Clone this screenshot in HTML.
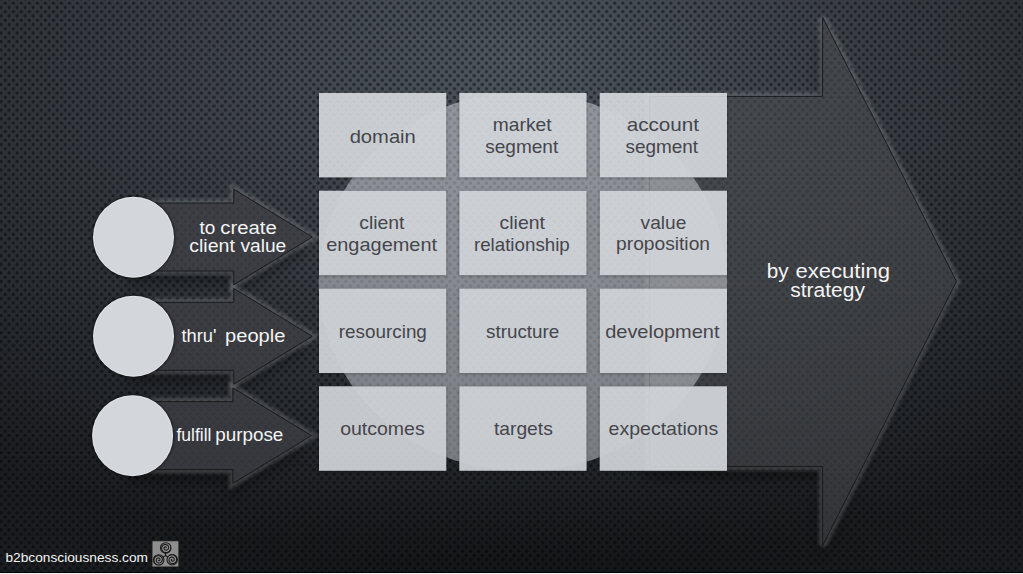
<!DOCTYPE html>
<html lang="en">
<head>
<meta charset="utf-8">
<title>Strategy diagram</title>
<style>
html,body{margin:0;padding:0;background:#191b1e;}
body{width:1023px;height:574px;overflow:hidden;font-family:"Liberation Sans",sans-serif;}
svg{display:block;position:absolute;left:0;top:0;}
text{font-family:"Liberation Sans",sans-serif;}
</style>
</head>
<body>
<svg width="1023" height="574" viewBox="0 0 1023 574">
<defs>
  <radialGradient id="bg" gradientUnits="userSpaceOnUse" cx="0" cy="0" r="1" gradientTransform="translate(512 60) scale(870 506)">
    <stop offset="0" stop-color="#4e555e"/>
    <stop offset="1" stop-color="#1a1c1f"/>
  </radialGradient>
  <filter id="dotblur" x="-50%" y="-50%" width="200%" height="200%"><feGaussianBlur stdDeviation="0.35"/></filter>
  <radialGradient id="dg">
    <stop offset="0" stop-color="#000" stop-opacity="0.47"/>
    <stop offset="0.55" stop-color="#000" stop-opacity="0.46"/>
    <stop offset="1" stop-color="#000" stop-opacity="0"/>
  </radialGradient>
  <pattern id="dots" x="0" y="0" width="8.02" height="8.565" patternUnits="userSpaceOnUse">
    <g fill="url(#dg)">
      <circle cx="5.3" cy="3.1" r="2.15"/>
      <circle cx="1.0" cy="7.38" r="2.15"/>
      <circle cx="9.02" cy="7.38" r="2.15"/>
      <circle cx="1.0" cy="-1.185" r="2.15"/>
      <circle cx="9.02" cy="-1.185" r="2.15"/>
    </g>
  </pattern>
  <filter id="sh8" x="-20%" y="-20%" width="140%" height="150%"><feGaussianBlur stdDeviation="5"/></filter>
  <filter id="sh3" x="-20%" y="-20%" width="140%" height="150%"><feGaussianBlur stdDeviation="1.6"/></filter>
  <filter id="glow" x="-10%" y="-10%" width="120%" height="120%"><feGaussianBlur stdDeviation="1.8"/></filter>
  <clipPath id="ell"><ellipse cx="522.9" cy="281.9" rx="204.2" ry="189.2"/></clipPath>
  <mask id="mBig" maskUnits="userSpaceOnUse" x="0" y="0" width="1023" height="574"><rect width="1023" height="574" fill="#fff"/><path d="M649.30,96.40 L822.60,96.40 L822.60,17.40 L956.50,281.45 L822.60,545.50 L822.60,466.50 L649.30,466.50 Z" fill="#000"/></mask>
  <mask id="mSmall" maskUnits="userSpaceOnUse" x="0" y="0" width="1023" height="574"><rect width="1023" height="574" fill="#fff"/><path d="M133.00,203.00 L233.80,203.00 L233.80,189.30 L312.30,237.00 L233.80,284.70 L233.80,271.00 L133.00,271.00 Z" fill="#000"/><path d="M133.00,302.30 L233.80,302.30 L233.80,288.60 L312.30,336.30 L233.80,384.00 L233.80,370.30 L133.00,370.30 Z" fill="#000"/><path d="M132.10,401.60 L232.90,401.60 L232.90,387.90 L311.40,435.60 L232.90,483.30 L232.90,469.60 L132.10,469.60 Z" fill="#000"/></mask>
  <mask id="mBox" maskUnits="userSpaceOnUse" x="0" y="0" width="1023" height="574"><rect width="1023" height="574" fill="#fff"/><g fill="#000"><rect x="319.0" y="92.9" width="127.3" height="84.5"/>
<rect x="459.3" y="92.9" width="127.3" height="84.5"/>
<rect x="599.7" y="92.9" width="127.3" height="84.5"/>
<rect x="319.0" y="190.7" width="127.3" height="84.5"/>
<rect x="459.3" y="190.7" width="127.3" height="84.5"/>
<rect x="599.7" y="190.7" width="127.3" height="84.5"/>
<rect x="319.0" y="288.5" width="127.3" height="84.5"/>
<rect x="459.3" y="288.5" width="127.3" height="84.5"/>
<rect x="599.7" y="288.5" width="127.3" height="84.5"/>
<rect x="319.0" y="386.3" width="127.3" height="84.5"/>
<rect x="459.3" y="386.3" width="127.3" height="84.5"/>
<rect x="599.7" y="386.3" width="127.3" height="84.5"/></g></mask>
  <radialGradient id="botdark" gradientUnits="userSpaceOnUse" cx="0" cy="0" r="1" gradientTransform="translate(512 575) scale(470 170)">
    <stop offset="0" stop-color="#000" stop-opacity="0.24"/>
    <stop offset="1" stop-color="#000" stop-opacity="0"/>
  </radialGradient>
</defs>

<!-- background -->
<rect width="1023" height="574" fill="url(#bg)"/>
<rect width="1023" height="574" fill="url(#botdark)"/>
<rect width="1023" height="574" fill="url(#dots)"/>

<!-- big arrow -->
<g>
  <g mask="url(#mBig)">
    <path d="M649.30,96.40 L822.60,96.40 L822.60,17.40 L956.50,281.45 L822.60,545.50 L822.60,466.50 L649.30,466.50 Z" fill="#000" fill-opacity="0.28" filter="url(#sh8)" transform="translate(-5 14)"/>
    <path d="M649.30,96.40 L822.60,96.40 L822.60,17.40 L956.50,281.45 L822.60,545.50 L822.60,466.50 L649.30,466.50 Z" fill="none" stroke="#aeb1b7" stroke-opacity="0.23" stroke-width="8" filter="url(#glow)"/>
  </g>
  <path d="M649.30,96.40 L822.60,96.40 L822.60,17.40 L956.50,281.45 L822.60,545.50 L822.60,466.50 L649.30,466.50 Z" fill="#4b4d51" fill-opacity="0.55"/>
  <path d="M649.30,96.40 L822.60,96.40 L822.60,17.40 L956.50,281.45 L822.60,545.50 L822.60,466.50 L649.30,466.50 Z" fill="none" stroke="#17181b" stroke-opacity="0.9" stroke-width="1"/>
</g>

<!-- big ellipse -->
<g mask="url(#mBox)"><ellipse cx="522.9" cy="281.9" rx="204.2" ry="189.2" fill="#f6f9ff" fill-opacity="0.42"/></g>
<g fill="#f6f9ff" fill-opacity="0.11" clip-path="url(#ell)">
<rect x="319.0" y="92.9" width="127.3" height="84.5"/>
<rect x="459.3" y="92.9" width="127.3" height="84.5"/>
<rect x="599.7" y="92.9" width="127.3" height="84.5"/>
<rect x="319.0" y="190.7" width="127.3" height="84.5"/>
<rect x="459.3" y="190.7" width="127.3" height="84.5"/>
<rect x="599.7" y="190.7" width="127.3" height="84.5"/>
<rect x="319.0" y="288.5" width="127.3" height="84.5"/>
<rect x="459.3" y="288.5" width="127.3" height="84.5"/>
<rect x="599.7" y="288.5" width="127.3" height="84.5"/>
<rect x="319.0" y="386.3" width="127.3" height="84.5"/>
<rect x="459.3" y="386.3" width="127.3" height="84.5"/>
<rect x="599.7" y="386.3" width="127.3" height="84.5"/>
</g>

<!-- small arrows -->
<g>
  <g mask="url(#mSmall)">
  <path d="M133.00,203.00 L233.80,203.00 L233.80,189.30 L312.30,237.00 L233.80,284.70 L233.80,271.00 L133.00,271.00 Z" fill="#000" fill-opacity="0.28" filter="url(#sh8)" transform="translate(-5 14)"/><path d="M133.00,302.30 L233.80,302.30 L233.80,288.60 L312.30,336.30 L233.80,384.00 L233.80,370.30 L133.00,370.30 Z" fill="#000" fill-opacity="0.28" filter="url(#sh8)" transform="translate(-5 14)"/><path d="M132.10,401.60 L232.90,401.60 L232.90,387.90 L311.40,435.60 L232.90,483.30 L232.90,469.60 L132.10,469.60 Z" fill="#000" fill-opacity="0.28" filter="url(#sh8)" transform="translate(-5 14)"/>
  <path d="M133.00,203.00 L233.80,203.00 L233.80,189.30 L312.30,237.00 L233.80,284.70 L233.80,271.00 L133.00,271.00 Z" fill="none" stroke="#aeb1b7" stroke-opacity="0.23" stroke-width="8" filter="url(#glow)"/><path d="M133.00,302.30 L233.80,302.30 L233.80,288.60 L312.30,336.30 L233.80,384.00 L233.80,370.30 L133.00,370.30 Z" fill="none" stroke="#aeb1b7" stroke-opacity="0.23" stroke-width="8" filter="url(#glow)"/><path d="M132.10,401.60 L232.90,401.60 L232.90,387.90 L311.40,435.60 L232.90,483.30 L232.90,469.60 L132.10,469.60 Z" fill="none" stroke="#aeb1b7" stroke-opacity="0.23" stroke-width="8" filter="url(#glow)"/>
  </g>
  <path d="M133.00,203.00 L233.80,203.00 L233.80,189.30 L312.30,237.00 L233.80,284.70 L233.80,271.00 L133.00,271.00 Z" fill="#3f4146" fill-opacity="0.74"/><path d="M133.00,302.30 L233.80,302.30 L233.80,288.60 L312.30,336.30 L233.80,384.00 L233.80,370.30 L133.00,370.30 Z" fill="#3f4146" fill-opacity="0.74"/><path d="M132.10,401.60 L232.90,401.60 L232.90,387.90 L311.40,435.60 L232.90,483.30 L232.90,469.60 L132.10,469.60 Z" fill="#3f4146" fill-opacity="0.74"/>
  <path d="M133.00,203.00 L233.80,203.00 L233.80,189.30 L312.30,237.00 L233.80,284.70 L233.80,271.00 L133.00,271.00 Z" fill="none" stroke="#17181b" stroke-opacity="0.9" stroke-width="1"/><path d="M133.00,302.30 L233.80,302.30 L233.80,288.60 L312.30,336.30 L233.80,384.00 L233.80,370.30 L133.00,370.30 Z" fill="none" stroke="#17181b" stroke-opacity="0.9" stroke-width="1"/><path d="M132.10,401.60 L232.90,401.60 L232.90,387.90 L311.40,435.60 L232.90,483.30 L232.90,469.60 L132.10,469.60 Z" fill="none" stroke="#17181b" stroke-opacity="0.9" stroke-width="1"/>
</g>

<!-- circles -->
<g>
  <circle cx="133.5" cy="237.2" r="41.3" fill="#000" fill-opacity="0.55" filter="url(#sh3)"/><circle cx="133.5" cy="336.2" r="41.3" fill="#000" fill-opacity="0.55" filter="url(#sh3)"/><circle cx="132.6" cy="435.7" r="41.3" fill="#000" fill-opacity="0.55" filter="url(#sh3)"/>
  <circle cx="133.5" cy="237.2" r="40.5" fill="#d3d7db"/><circle cx="133.5" cy="336.2" r="40.5" fill="#d3d7db"/><circle cx="132.6" cy="435.7" r="40.5" fill="#d3d7db"/>
  <circle cx="133.5" cy="237.2" r="39.9" fill="none" stroke="#ffffff" stroke-opacity="0.35" stroke-width="0.9"/><circle cx="133.5" cy="336.2" r="39.9" fill="none" stroke="#ffffff" stroke-opacity="0.35" stroke-width="0.9"/><circle cx="132.6" cy="435.7" r="39.9" fill="none" stroke="#ffffff" stroke-opacity="0.35" stroke-width="0.9"/>
</g>

<!-- boxes -->
<g mask="url(#mBox)"><g fill="#000" fill-opacity="0.32" filter="url(#sh3)" transform="translate(0 0.5)">
<rect x="319.0" y="92.9" width="127.3" height="84.5"/>
<rect x="459.3" y="92.9" width="127.3" height="84.5"/>
<rect x="599.7" y="92.9" width="127.3" height="84.5"/>
<rect x="319.0" y="190.7" width="127.3" height="84.5"/>
<rect x="459.3" y="190.7" width="127.3" height="84.5"/>
<rect x="599.7" y="190.7" width="127.3" height="84.5"/>
<rect x="319.0" y="288.5" width="127.3" height="84.5"/>
<rect x="459.3" y="288.5" width="127.3" height="84.5"/>
<rect x="599.7" y="288.5" width="127.3" height="84.5"/>
<rect x="319.0" y="386.3" width="127.3" height="84.5"/>
<rect x="459.3" y="386.3" width="127.3" height="84.5"/>
<rect x="599.7" y="386.3" width="127.3" height="84.5"/>
</g></g>
<g fill="#e4e7eb" fill-opacity="0.84">
<rect x="319.0" y="92.9" width="127.3" height="84.5"/>
<rect x="459.3" y="92.9" width="127.3" height="84.5"/>
<rect x="599.7" y="92.9" width="127.3" height="84.5"/>
<rect x="319.0" y="190.7" width="127.3" height="84.5"/>
<rect x="459.3" y="190.7" width="127.3" height="84.5"/>
<rect x="599.7" y="190.7" width="127.3" height="84.5"/>
<rect x="319.0" y="288.5" width="127.3" height="84.5"/>
<rect x="459.3" y="288.5" width="127.3" height="84.5"/>
<rect x="599.7" y="288.5" width="127.3" height="84.5"/>
<rect x="319.0" y="386.3" width="127.3" height="84.5"/>
<rect x="459.3" y="386.3" width="127.3" height="84.5"/>
<rect x="599.7" y="386.3" width="127.3" height="84.5"/>
</g>

<!-- text -->
<g>
<text id="b0" x="349.66" y="142.90" font-size="17.7" fill="#45454c" textLength="66.14" lengthAdjust="spacingAndGlyphs">domain</text>
<text id="b1" x="492.84" y="131.30" font-size="17.7" fill="#45454c" textLength="58.70" lengthAdjust="spacingAndGlyphs">market</text>
<text id="b2" x="485.18" y="152.50" font-size="17.7" fill="#45454c" textLength="73.08" lengthAdjust="spacingAndGlyphs">segment</text>
<text id="b3" x="626.66" y="131.30" font-size="17.7" fill="#45454c" textLength="72.34" lengthAdjust="spacingAndGlyphs">account</text>
<text id="b4" x="625.44" y="152.50" font-size="17.7" fill="#45454c" textLength="72.60" lengthAdjust="spacingAndGlyphs">segment</text>
<text id="b5" x="359.20" y="229.40" font-size="17.7" fill="#45454c" textLength="45.34" lengthAdjust="spacingAndGlyphs">client</text>
<text id="b6" x="326.18" y="250.50" font-size="17.7" fill="#45454c" textLength="110.88" lengthAdjust="spacingAndGlyphs">engagement</text>
<text id="b7" x="499.56" y="229.40" font-size="17.7" fill="#45454c" textLength="45.34" lengthAdjust="spacingAndGlyphs">client</text>
<text id="b8" x="473.92" y="250.50" font-size="17.7" fill="#45454c" textLength="95.88" lengthAdjust="spacingAndGlyphs">relationship</text>
<text id="b9" x="640.60" y="229.30" font-size="17.7" fill="#45454c" textLength="45.70" lengthAdjust="spacingAndGlyphs">value</text>
<text id="b10" x="616.12" y="250.30" font-size="17.7" fill="#45454c" textLength="93.86" lengthAdjust="spacingAndGlyphs">proposition</text>
<text id="b11" x="338.84" y="337.80" font-size="17.7" fill="#45454c" textLength="88.04" lengthAdjust="spacingAndGlyphs">resourcing</text>
<text id="b12" x="486.02" y="337.80" font-size="17.7" fill="#45454c" textLength="73.24" lengthAdjust="spacingAndGlyphs">structure</text>
<text id="b13" x="605.18" y="337.80" font-size="17.7" fill="#45454c" textLength="114.34" lengthAdjust="spacingAndGlyphs">development</text>
<text id="b14" x="340.20" y="435.40" font-size="17.7" fill="#45454c" textLength="84.52" lengthAdjust="spacingAndGlyphs">outcomes</text>
<text id="b15" x="493.92" y="435.40" font-size="17.7" fill="#45454c" textLength="58.88" lengthAdjust="spacingAndGlyphs">targets</text>
<text id="b16" x="608.60" y="435.30" font-size="17.7" fill="#45454c" textLength="109.62" lengthAdjust="spacingAndGlyphs">expectations</text>
<text id="a0" x="199.40" y="233.50" font-size="17.5" fill="#f4f4f4" textLength="15.80" lengthAdjust="spacingAndGlyphs">to</text>
<text id="a1" x="220.38" y="233.50" font-size="17.5" fill="#f4f4f4" textLength="56.42" lengthAdjust="spacingAndGlyphs">create</text>
<text id="a2" x="189.20" y="251.60" font-size="17.5" fill="#f4f4f4" textLength="45.70" lengthAdjust="spacingAndGlyphs">client</text>
<text id="a3" x="240.40" y="251.60" font-size="17.5" fill="#f4f4f4" textLength="45.88" lengthAdjust="spacingAndGlyphs">value</text>
<text id="a4" x="181.40" y="341.70" font-size="17.5" fill="#f4f4f4" textLength="35.06" lengthAdjust="spacingAndGlyphs">thru'</text>
<text id="a5" x="225.02" y="341.70" font-size="17.5" fill="#f4f4f4" textLength="60.42" lengthAdjust="spacingAndGlyphs">people</text>
<text id="a6" x="176.40" y="440.70" font-size="17.5" fill="#f4f4f4" textLength="35.06" lengthAdjust="spacingAndGlyphs">fulfill</text>
<text id="a7" x="215.30" y="440.70" font-size="17.5" fill="#f4f4f4" textLength="68.06" lengthAdjust="spacingAndGlyphs">purpose</text>
<text id="g0" x="766.66" y="277.80" font-size="19.7" fill="#f4f4f4" textLength="21.88" lengthAdjust="spacingAndGlyphs">by</text>
<text id="g1" x="795.44" y="277.80" font-size="19.7" fill="#f4f4f4" textLength="94.50" lengthAdjust="spacingAndGlyphs">executing</text>
<text id="g2" x="790.20" y="297.40" font-size="19.7" fill="#f4f4f4" textLength="74.70" lengthAdjust="spacingAndGlyphs">strategy</text>
<text id="f0" x="5.50" y="561.80" font-size="13.5" fill="#f4f4f4" textLength="142.42" lengthAdjust="spacingAndGlyphs">b2bconsciousness.com</text>
</g>

<!-- logo -->
<g>
  <rect x="152.0" y="540.8" width="26.9" height="26.2" fill="#8e8e8e" stroke="#161616" stroke-width="0.9"/>
  <g fill="none" stroke="#161616" stroke-width="1.05" stroke-linecap="round" stroke-linejoin="round">
    <circle cx="165.7" cy="547.9" r="5.2"/><circle cx="158.7" cy="559.9" r="5.2"/><circle cx="172.2" cy="559.7" r="5.2"/>
    <path d="M170.90,547.90 L170.78,548.68 L170.55,549.43 L170.20,550.13 L169.76,550.76 L169.24,551.30 L168.64,551.76 L167.99,552.11 L167.30,552.36 L166.59,552.49 L165.88,552.52 L165.18,552.43 L164.51,552.24 L163.89,551.96 L163.32,551.58 L162.83,551.14 L162.41,550.62 L162.08,550.06 L161.85,549.46 L161.71,548.84 L161.67,548.22 L161.73,547.60 L161.88,547.01 L162.11,546.46 L162.42,545.96 L162.80,545.52 L163.24,545.15 L163.72,544.86 L164.23,544.64 L164.76,544.51 L165.29,544.47 L165.82,544.50 L166.33,544.62 L166.80,544.81 L167.23,545.06 L167.61,545.38 L167.93,545.74 L168.19,546.14 L168.38,546.56 L168.49,547.00 L168.54,547.45 L168.52,547.89 L168.43,548.31 L168.28,548.70 L168.07,549.06 L167.82,549.38 L167.53,549.64 L167.21,549.86 L166.86,550.01 L166.51,550.11 L166.15,550.15 L165.80,550.13 L165.46,550.06 L165.15,549.95 L164.87,549.79 L164.62,549.59 L164.41,549.36 L164.25,549.11 L164.13,548.84 L164.06,548.57 L164.03,548.30 L164.05,548.04 L164.11,547.79 L164.20,547.56 L164.32,547.36 L164.47,547.18 L164.64,547.04 L164.83,546.93 L165.02,546.86 L165.21,546.82 L165.39,546.81 L165.57,546.83 L165.73,546.89 L165.88,546.96 L166.00,547.05 L166.10,547.16 L166.17,547.27 L166.22,547.39 L166.24,547.51 L166.24,547.63 L166.22,547.73"/><path d="M156.10,564.40 L155.48,563.91 L154.95,563.33 L154.52,562.69 L154.19,561.99 L153.98,561.26 L153.89,560.52 L153.91,559.78 L154.04,559.06 L154.28,558.38 L154.61,557.75 L155.04,557.19 L155.53,556.70 L156.09,556.30 L156.70,556.00 L157.34,555.79 L157.99,555.69 L158.64,555.69 L159.27,555.79 L159.88,555.98 L160.44,556.26 L160.94,556.61 L161.38,557.03 L161.74,557.51 L162.01,558.03 L162.21,558.58 L162.31,559.14 L162.33,559.71 L162.25,560.25 L162.10,560.78 L161.88,561.26 L161.58,561.70 L161.23,562.08 L160.83,562.40 L160.39,562.64 L159.93,562.82 L159.46,562.91 L158.98,562.94 L158.52,562.89 L158.08,562.77 L157.67,562.58 L157.30,562.34 L156.98,562.06 L156.71,561.73 L156.51,561.37 L156.36,561.00 L156.28,560.61 L156.25,560.23 L156.29,559.85 L156.38,559.49 L156.53,559.16 L156.72,558.87 L156.95,558.61 L157.20,558.40 L157.48,558.24 L157.78,558.12 L158.08,558.06 L158.38,558.04 L158.67,558.07 L158.94,558.15 L159.19,558.26 L159.41,558.40 L159.59,558.58 L159.75,558.77 L159.86,558.98 L159.94,559.20 L159.97,559.41 L159.98,559.63 L159.95,559.83 L159.88,560.01 L159.80,560.18 L159.69,560.32 L159.56,560.43 L159.43,560.52 L159.29,560.58 L159.14,560.61 L159.01,560.62 L158.88,560.60 L158.76,560.56 L158.67,560.51 L158.59,560.44"/><path d="M169.60,555.20 L170.34,554.91 L171.10,554.74 L171.88,554.68 L172.64,554.75 L173.38,554.93 L174.07,555.22 L174.70,555.61 L175.26,556.08 L175.73,556.63 L176.11,557.24 L176.38,557.88 L176.56,558.56 L176.62,559.24 L176.58,559.92 L176.44,560.57 L176.20,561.19 L175.88,561.75 L175.48,562.25 L175.01,562.68 L174.49,563.03 L173.93,563.28 L173.34,563.45 L172.75,563.52 L172.16,563.50 L171.59,563.40 L171.05,563.21 L170.56,562.94 L170.12,562.60 L169.74,562.21 L169.43,561.77 L169.20,561.29 L169.05,560.80 L168.97,560.29 L168.98,559.79 L169.06,559.31 L169.21,558.85 L169.43,558.43 L169.70,558.05 L170.03,557.73 L170.39,557.47 L170.78,557.27 L171.19,557.13 L171.61,557.07 L172.02,557.06 L172.42,557.12 L172.80,557.25 L173.14,557.42 L173.45,557.64 L173.71,557.90 L173.92,558.19 L174.09,558.50 L174.19,558.82 L174.25,559.15 L174.25,559.48 L174.20,559.79 L174.11,560.08 L173.97,560.35 L173.80,560.59 L173.60,560.78 L173.38,560.94 L173.14,561.06 L172.90,561.14 L172.65,561.17 L172.42,561.16 L172.19,561.12 L171.98,561.05 L171.80,560.94 L171.64,560.81 L171.51,560.67 L171.41,560.51 L171.34,560.35 L171.31,560.18 L171.30,560.02 L171.32,559.87 L171.36,559.73 L171.42,559.61 L171.50,559.50 L171.59,559.42 L171.69,559.37 L171.79,559.33"/>
    <path d="M165.4,555.6 L165.5,553.2 M165.4,555.6 L163.4,556.9 M165.4,555.6 L167.5,556.8" stroke-width="1.1"/>
  </g>
</g>

<!-- bottom edge -->
<rect x="0" y="572" width="1023" height="1" fill="#050505"/>
<rect x="0" y="573" width="1023" height="1" fill="#f2f2f2"/>
</svg>
</body>
</html>
